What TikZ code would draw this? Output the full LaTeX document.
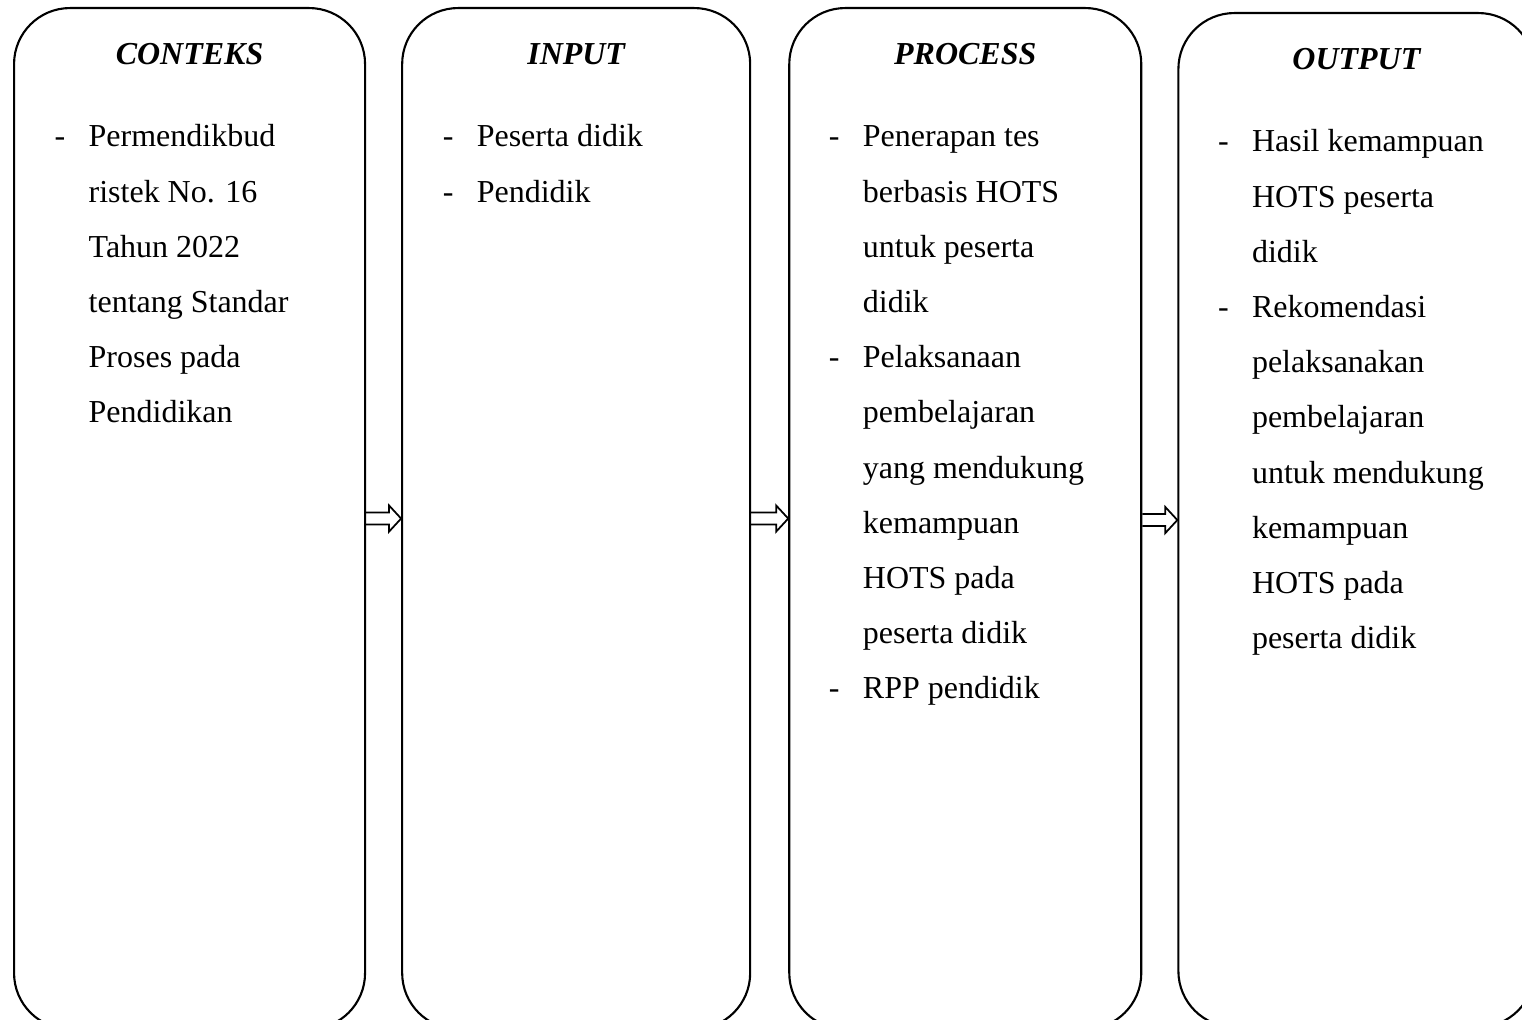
\documentclass[tikz,border=0pt]{standalone}
\usepackage{fontspec}
\setmainfont{Liberation Serif}
\usetikzlibrary{positioning, calc}

\begin{document}
\begin{tikzpicture}
    \tikzset{
      panel/.style={
        rectangle, rounded corners=0.56cm,
        draw=black, line width=0.6pt,
        minimum width=#1, minimum height=10.21cm, inner sep=0pt
      },
      heading/.style={
        anchor=base, inner sep=0pt,
        font=\fontsize{9.1pt}{15.7pt}\selectfont\bfseries\itshape
      },
      items/.style={
        anchor=base west, inner sep=0pt,
        font=\fontsize{9.1pt}{15.7pt}\selectfont
      },
      hollowarrow/.style={
        line width=0.5pt,
        to path={
          ($(\tikztostart |- \tikztotarget)+(0,0.06)$) -- ($(\tikztotarget)+(-0.12,0.06)$)
          -- ($(\tikztotarget)+(-0.12,0.13)$) -- (\tikztotarget)
          -- ($(\tikztotarget)+(-0.12,-0.13)$) -- ($(\tikztotarget)+(-0.12,-0.06)$)
          -- ($(\tikztostart |- \tikztotarget)+(0,-0.06)$)
        }
      }
    }
    \useasboundingbox (0,0) rectangle (15.22,-10.20);

    % Panels
    \node[panel=3.51cm, anchor=north west] (ctx) at (0.13,-0.07) {};
    \node[panel=3.48cm, right=0.35cm of ctx] (inp) {};
    \node[panel=3.52cm, right=0.37cm of inp] (proc) {};
    \node[panel=3.56cm, minimum height=10.14cm, right=0.35cm of proc, yshift=-0.015cm] (outp) {};

    % Headings
    \node[heading] (ctxtitle) at ($(ctx.north)+(0,-0.58)$) {CONTEKS};
    \node[heading] (inptitle) at ($(inp.north)+(0,-0.58)$) {INPUT};
    \node[heading] (proctitle) at ($(proc.north)+(0,-0.58)$) {PROCESS};
    \node[heading] (outptitle) at ($(outp.north)+(0,-0.58)$) {OUTPUT};

    % Lists
    \node[items] (ctxlist) at ($(ctx.north west)+(0.41,-1.40)$) {%
      \begin{tabular}[t]{@{}p{0.34cm}@{}l@{}}
        - & Permendikbud\\
          & ristek No. 16\\
          & Tahun 2022\\
          & tentang Standar\\
          & Proses pada\\
          & Pendidikan
      \end{tabular}};
    \node[items] (inplist) at ($(inp.north west)+(0.41,-1.40)$) {%
      \begin{tabular}[t]{@{}p{0.34cm}@{}l@{}}
        - & Peserta didik\\
        - & Pendidik
      \end{tabular}};
    \node[items] (proclist) at ($(proc.north west)+(0.40,-1.40)$) {%
      \begin{tabular}[t]{@{}p{0.34cm}@{}l@{}}
        - & Penerapan tes\\
          & berbasis HOTS\\
          & untuk peserta\\
          & didik\\
        - & Pelaksanaan\\
          & pembelajaran\\
          & yang mendukung\\
          & kemampuan\\
          & HOTS pada\\
          & peserta didik\\
        - & RPP pendidik
      \end{tabular}};
    \node[items] (outplist) at ($(outp.north west)+(0.40,-1.40)$) {%
      \begin{tabular}[t]{@{}p{0.34cm}@{}l@{}}
        - & Hasil kemampuan\\
          & HOTS peserta\\
          & didik\\
        - & Rekomendasi\\
          & pelaksanakan\\
          & pembelajaran\\
          & untuk mendukung\\
          & kemampuan\\
          & HOTS pada\\
          & peserta didik
      \end{tabular}};

    % Arrows
    \draw[hollowarrow] (ctx.east) to (inp.west);
    \draw[hollowarrow] (inp.east) to (proc.west);
    \draw[hollowarrow] (proc.east) to (outp.west);
  \end{tikzpicture}
\end{document}
